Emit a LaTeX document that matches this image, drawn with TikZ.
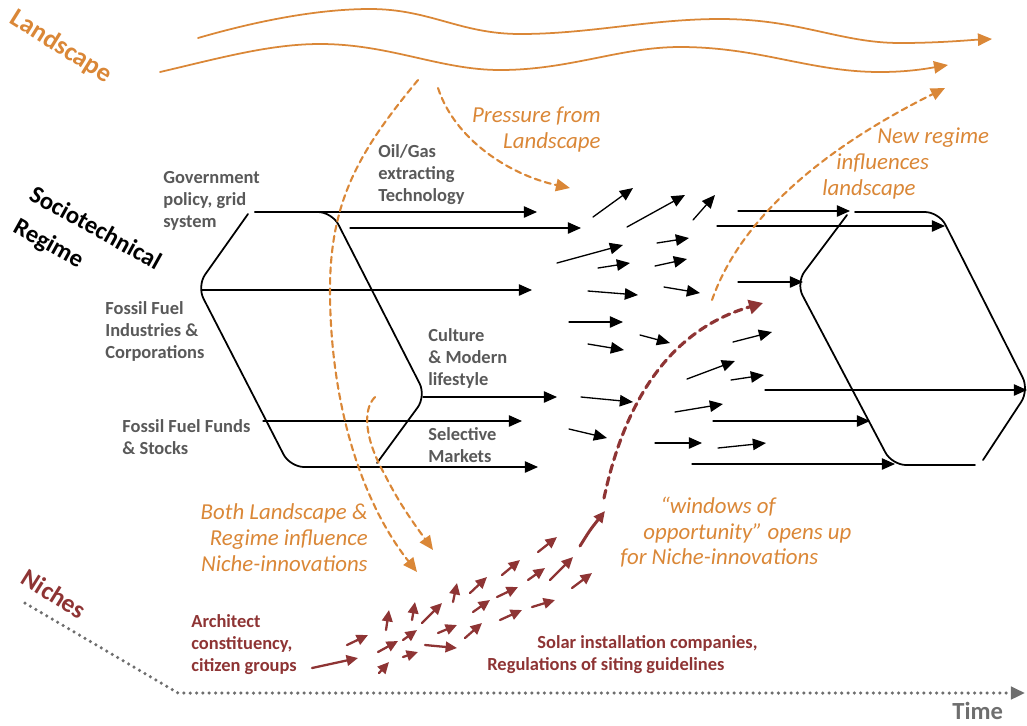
\documentclass[tikz,border=0pt]{standalone}
\usepackage{fontspec}
\setmainfont{Carlito}
\usetikzlibrary{arrows.meta}

\begin{document}
\begin{tikzpicture}[x=0.02cm,y=-0.02cm,cap=round]
  % Colors
  \definecolor{landcolor}{RGB}{218,135,55}
  \definecolor{nichecolor}{RGB}{142,52,52}
  \definecolor{labelcolor}{RGB}{89,89,89}
  \definecolor{timecolor}{RGB}{110,110,110}

  % Styles
  \tikzstyle{regime line}=[line width=0.75pt,-{Triangle[length=7.5pt,width=6.5pt]}]
  \tikzstyle{regime border}=[line width=1pt,rounded corners=8pt]
  \tikzstyle{land line}=[landcolor,line width=1pt,-{Triangle[length=8pt,width=7pt]}]
  \tikzstyle{land dashed}=[landcolor,line width=1.2pt,dash pattern=on 3.5pt off 2.5pt,-{Triangle[length=8pt,width=7pt]}]
  \tikzstyle{niche arrow}=[nichecolor,line width=1.3pt,-{Triangle[length=6.5pt,width=6pt]}]
  \tikzstyle{niche dashed}=[nichecolor,line width=1.8pt,dash pattern=on 4.5pt off 3pt,-{Triangle[length=8pt,width=8pt]}]
  \tikzstyle{time line}=[timecolor,line width=2pt,dash pattern=on 0pt off 3.6pt,line cap=round,-{Triangle[length=8pt,width=7pt]}]
  \tikzstyle{regime text}=[labelcolor,font=\fontsize{10.5}{12.6}\selectfont\bfseries,align=left,inner sep=0pt]
  \tikzstyle{land text}=[landcolor,font=\fontsize{13}{15}\selectfont\itshape,inner sep=0pt]
  \tikzstyle{niche text}=[nichecolor,font=\fontsize{10.5}{12.6}\selectfont\bfseries,align=left,inner sep=0pt]

  \useasboundingbox (0,0) rectangle (1027,725);

  % Landscape level
  \node[landcolor,font=\fontsize{15}{18}\selectfont\bfseries,rotate=-32] (landscape) at (61,47) {Landscape};

  \draw[land line] (198,38) .. controls (260,20) and (320,9) .. (370,9)
    .. controls (430,9) and (460,34) .. (520,34)
    .. controls (590,34) and (650,19) .. (720,19)
    .. controls (800,19) and (840,43) .. (900,43)
    .. controls (940,43) and (970,40) .. (992,39);
  \draw[land line] (160,72) .. controls (220,58) and (270,44) .. (320,44)
    .. controls (390,44) and (440,70) .. (500,70)
    .. controls (570,70) and (620,47) .. (680,47)
    .. controls (760,47) and (810,72) .. (880,72)
    .. controls (910,72) and (930,68) .. (948,65);

  % Regime level
  \node[font=\fontsize{14}{18}\selectfont\bfseries,rotate=-29,anchor=north west,inner sep=0pt]
    (regime1) at (36,184) {Sociotechnical};
  \node[font=\fontsize{14}{18}\selectfont\bfseries,rotate=-29,anchor=north west,inner sep=0pt]
    (regime2) at (20,216) {Regime};

  \draw[regime border] (248,214) -- (197,286) -- (290,467) -- (370,467);
  \draw[regime border] (255,212) -- (332,212) -- (426,396) -- (377,463);
  \draw[regime border] (847,215) -- (796,283) -- (892,465) -- (975,465);
  \draw[regime border] (855,212) -- (939,212) -- (1029,390) -- (983,460);

  \foreach \xa/\ya/\xb/\yb in {255/212/537/212, 350/228/581/228, 202/290/532/290,
      423/397/557/397, 263/421/522/421, 370/467/538/467,
      738/211/850/211, 717/226/945/226, 738/282/803/282,
      765/390/1027/390, 713/421/870/421, 692/464/895/464}
    \draw[regime line] (\xa,\ya) -- (\xb,\yb);

  \foreach \xa/\ya/\xb/\yb in {593/217/633/188, 627/227/685/195, 693/220/715/195,
      557/263/623/245, 657/243/689/238, 598/268/630/263, 655/266/687/259,
      588/291/638/295, 664/287/700/293, 569/322/623/322, 640/335/670/343,
      588/344/624/350, 733/342/772/332, 687/379/735/361, 731/380/764/375,
      581/397/633/402, 569/429/607/438, 675/412/723/404, 655/443/702/443,
      718/448/766/443}
    \draw[regime line] (\xa,\ya) -- (\xb,\yb);

  \node[regime text,anchor=north west] (policy) at (163,171) {Government\\policy, grid\\system};
  \node[regime text,anchor=north west] (tech) at (378,144) {Oil/Gas\\extracting\\Technology};
  \node[regime text,anchor=north west] (industry) at (105,301) {Fossil Fuel\\Industries \&\\Corporations};
  \node[regime text,anchor=north west] (culture) at (428,328) {Culture\\\& Modern\\lifestyle};
  \node[regime text,anchor=north west] (funds) at (122,419) {Fossil Fuel Funds\\\& Stocks};
  \node[regime text,anchor=north west] (markets) at (428,427) {Selective\\Markets};

  % Pressures between levels
  \draw[land dashed] (418,80) .. controls (360,150) and (330,200) .. (330,290)
    .. controls (330,400) and (360,500) .. (417,572);
  \draw[land dashed] (375,397) .. controls (362,410) and (365,440) .. (385,475)
    .. controls (400,505) and (415,525) .. (433,550);
  \draw[land dashed] (438,88) .. controls (455,140) and (510,175) .. (570,188);
  \draw[land dashed] (712,300) .. controls (740,220) and (820,150) .. (945,88);

  \node[land text,align=right,anchor=north east] (pressure) at (601,106) {Pressure from\\Landscape};
  \node[land text,anchor=base west] (newregime1) at (877,143) {New regime};
  \node[land text,anchor=base west] (newregime2) at (836,169) {influences};
  \node[land text,anchor=base west] (newregime3) at (822,195) {landscape};
  \node[land text,align=right,anchor=north east] (both) at (368,503) {Both Landscape \&\\Regime influence\\Niche-innovations};
  \node[land text,anchor=base west] (window1) at (660,513) {“windows of};
  \node[land text,anchor=base west] (window2) at (643,539) {opportunity” opens up};
  \node[land text,anchor=base west] (window3) at (620,564) {for Niche-innovations};

  % Niche level
  \node[nichecolor,font=\fontsize{14.5}{17}\selectfont\bfseries,rotate=-32] (niches) at (54,594) {Niches};

  \foreach \xa/\ya/\xb/\yb in {312/668/358/658, 347/645/368/635, 379/673/389/662,
      378/652/398/641, 386/630/389/610, 403/657/418/652, 403/640/417/630,
      412/620/415/602, 425/645/457/648, 422/623/442/603, 438/633/457/625,
      465/638/482/623, 453/602/457/583, 473/612/490/600, 470/593/487/577,
      497/597/518/587, 500/620/522/610, 502/575/520/560, 532/607/555/600,
      528/580/545/568, 538/552/557/537, 550/580/573/557, 572/588/592/573}
    \draw[niche arrow] (\xa,\ya) -- (\xb,\yb);

  \draw[niche arrow,line width=1.7pt] (580,546) .. controls (590,530) .. (605,511);
  \draw[niche dashed] (604,498) .. controls (625,400) and (670,330) .. (763,303);

  \node[niche text,anchor=north west] (architect) at (191,614) {Architect\\constituency,\\citizen groups};
  \node[niche text,anchor=base west] (solar1) at (537,648) {Solar installation companies,};
  \node[niche text,anchor=base west] (solar2) at (487,670) {Regulations of siting guidelines};

  % Time axis
  \draw[time line] (25,603) -- (178,693) -- (1025,693);
  \node[timecolor,font=\fontsize{14}{17}\selectfont\bfseries,anchor=north west,inner sep=0pt] (time) at (952,702) {Time};
\end{tikzpicture}
\end{document}
